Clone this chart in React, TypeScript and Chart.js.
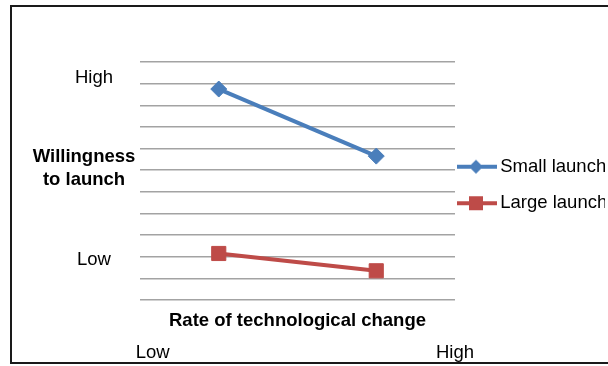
import { useEffect, useRef } from 'react';
import { Chart, registerables } from 'chart.js';

Chart.register(...registerables);

// Rate of technological change (category axis)
const rateCategories = ['Low', 'High'];
// Willingness to launch, per launch size
const smallLaunch = [9.75, 6.65];
const largeLaunch = [2.15, 1.35];
const seriesNames = ['Small launch', 'Large launch'];

// End labels of both axes
const willingnessTickValues = [1.85, 10.25];
const willingnessTickLabels = ['Low', 'High'];
const rateTickValues = [0.04, 1];
const rateTickLabels = ['Low', 'High'];

const yTitleLines = ['Willingness', 'to launch'];
const xTitle = 'Rate of technological change';

const BLUE = '#4a7ebb';
const RED = '#be4b48';
const GRID = '#a3a3a3';
const FONT = '"Liberation Sans", Arial, Helvetica, sans-serif';
const SIZE = 18.5;

// Legend swatch: a short line with the series marker on it
function legendIcon(color: string, style: string): HTMLCanvasElement {
  const c = document.createElement('canvas');
  c.width = 50;
  c.height = 20;
  const g = c.getContext('2d')!;
  g.strokeStyle = color;
  g.lineWidth = 4;
  g.beginPath();
  g.moveTo(0, 10);
  g.lineTo(40, 10);
  g.stroke();
  g.fillStyle = color;
  if (style === 'rectRot') {
    g.beginPath();
    g.moveTo(19, 3);
    g.lineTo(26, 10);
    g.lineTo(19, 17);
    g.lineTo(12, 10);
    g.closePath();
    g.fill();
  } else {
    g.fillRect(12, 3, 14, 14);
  }
  return c;
}

const framePlugin = {
  id: 'frame',
  beforeDraw(chart: any) {
    const { ctx } = chart;
    ctx.save();
    ctx.fillStyle = '#ffffff';
    ctx.fillRect(0, 0, chart.width, chart.height);
    ctx.strokeStyle = '#1a1a1a';
    ctx.lineWidth = 2;
    ctx.strokeRect(11, 6, 700, 357);
    ctx.restore();
  },
};

const yTitlePlugin = {
  id: 'yTitle',
  afterDraw(chart: any) {
    const { ctx } = chart;
    ctx.save();
    ctx.fillStyle = '#000000';
    ctx.font = `bold ${SIZE}px ${FONT}`;
    ctx.textAlign = 'center';
    ctx.textBaseline = 'middle';
    ctx.fillText(yTitleLines[0], 84, 157);
    ctx.fillText(yTitleLines[1], 84, 180);
    ctx.restore();
  },
};

export default function App() {
  const canvasRef = useRef<HTMLCanvasElement | null>(null);

  useEffect(() => {
    if (!canvasRef.current) return;
    const styles = ['rectRot', 'rect'];
    const colors = [BLUE, RED];
    const icons = styles.map((s, i) => legendIcon(colors[i], s));

    const chart = new Chart(canvasRef.current, {
      type: 'line',
      data: {
        labels: rateCategories,
        datasets: [
          {
            label: seriesNames[0],
            data: smallLaunch,
            borderColor: BLUE,
            backgroundColor: BLUE,
            borderWidth: 4,
            pointStyle: 'rectRot',
            pointRadius: 8,
            pointBorderWidth: 1,
            pointBackgroundColor: BLUE,
            pointBorderColor: BLUE,
          },
          {
            label: seriesNames[1],
            data: largeLaunch,
            borderColor: RED,
            backgroundColor: RED,
            borderWidth: 4,
            pointStyle: 'rect',
            pointRadius: 10,
            pointBorderWidth: 1,
            pointBackgroundColor: RED,
            pointBorderColor: RED,
          },
        ],
      },
      options: {
        responsive: false,
        animation: false,
        layout: { padding: { left: 55, top: 62, right: 15, bottom: 2 } },
        plugins: {
          tooltip: { enabled: false },
          legend: {
            position: 'right',
            fullSize: false,
            maxWidth: 150,
            title: {
              display: true,
              text: '',
              padding: 0,
              font: { family: FONT, size: 8, lineHeight: 1 },
            },
            labels: {
              usePointStyle: true,
              pointStyleWidth: 18,
              padding: 18,
              color: '#000000',
              font: { family: FONT, size: SIZE },
              generateLabels(ch: any) {
                const items = Chart.defaults.plugins.legend.labels.generateLabels(ch);
                return items.map((it: any, i: number) => ({ ...it, pointStyle: icons[i] }));
              },
            },
          },
        },
        scales: {
          x: {
            type: 'category',
            position: 'bottom',
            weight: 0,
            offset: true,
            grid: { display: false, drawTicks: false },
            border: { display: false },
            ticks: { display: false },
            title: {
              display: true,
              text: xTitle,
              color: '#000000',
              font: { family: FONT, size: SIZE, weight: 'bold' },
              padding: { top: 10, bottom: 4 },
            },
            afterFit: (s: any) => {
              s.height = 36;
            },
          },
          x2: {
            type: 'linear',
            position: 'bottom',
            weight: 1,
            min: 0,
            max: 1,
            grid: { display: false, drawTicks: false },
            border: { display: false },
            afterBuildTicks: (s: any) => {
              s.ticks = rateTickValues.map((v) => ({ value: v }));
            },
            ticks: {
              color: '#000000',
              font: { family: FONT, size: SIZE },
              padding: 6,
              maxRotation: 0,
              autoSkip: false,
              callback: (_v: any, i: number) => rateTickLabels[i],
            },
            afterFit: (s: any) => {
              s.height = 28;
            },
          },
          y: {
            type: 'linear',
            position: 'left',
            weight: 0,
            min: 0,
            max: 11,
            ticks: { display: false, stepSize: 1 },
            grid: { color: GRID, lineWidth: 1.5, drawTicks: false },
            border: { display: false },
            afterFit: (s: any) => {
              s.width = 0;
            },
          },
          y2: {
            type: 'linear',
            position: 'left',
            weight: 1,
            min: 0,
            max: 11,
            grid: { display: false, drawTicks: false },
            border: { display: false },
            afterBuildTicks: (s: any) => {
              s.ticks = willingnessTickValues.map((v) => ({ value: v }));
            },
            ticks: {
              color: '#000000',
              font: { family: FONT, size: SIZE },
              padding: 27,
              crossAlign: 'center',
              autoSkip: false,
              callback: (_v: any, i: number) => willingnessTickLabels[i],
            },
            afterFit: (s: any) => {
              s.width = 85;
            },
          },
        },
      } as any,
      plugins: [framePlugin, yTitlePlugin],
    });

    return () => chart.destroy();
  }, []);

  return (
    <div style={{ position: 'fixed', left: 0, top: 0, width: 620, height: 366, background: '#ffffff' }}>
      <canvas ref={canvasRef} width={620} height={366} style={{ display: 'block' }} />
    </div>
  );
}
